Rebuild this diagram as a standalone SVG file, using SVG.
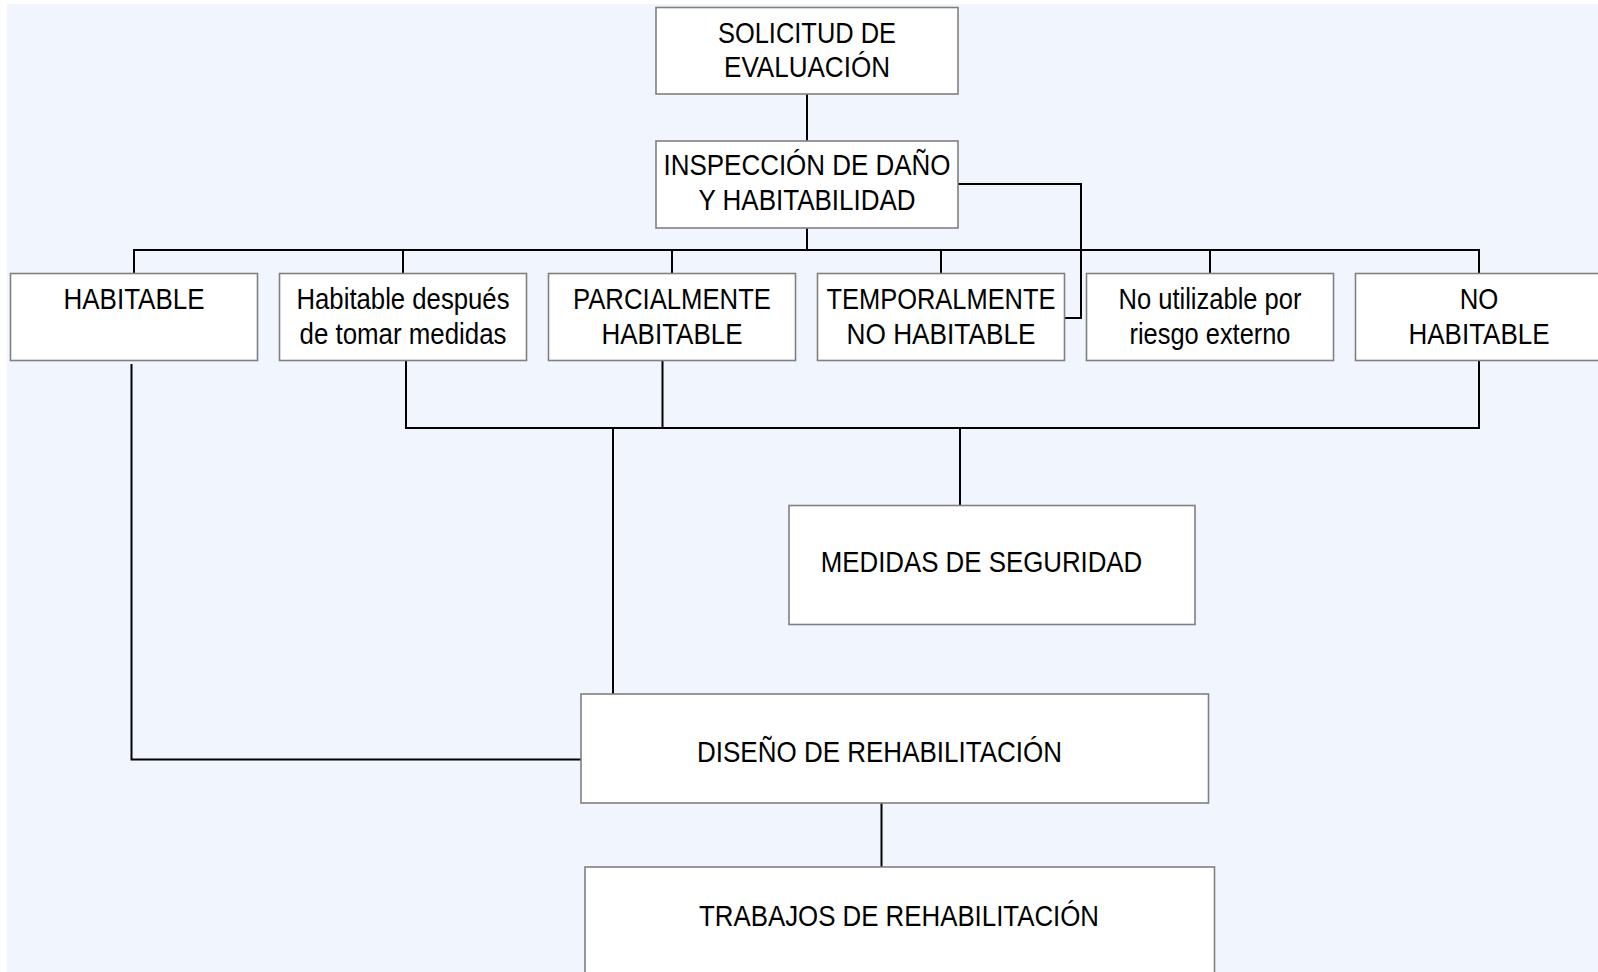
<svg xmlns="http://www.w3.org/2000/svg" width="1598" height="972" viewBox="0 0 1598 972">
  <style>
    .box { fill: #ffffff; stroke: #808080; stroke-width: 1.6; }
    .wire { fill: none; stroke: #000000; stroke-width: 2; stroke-linecap: square; }
    .lbl { font-family: "Liberation Sans", Arial, sans-serif; font-size: 30px; fill: #000000; text-anchor: middle; }
  </style>

  <!-- page -->
  <rect x="0" y="0" width="1598" height="972" fill="#ffffff"/>
  <rect x="7" y="4" width="1591" height="968" fill="#f1f5fe"/>

  <!-- connectors -->
  <g id="connectors" class="wire">
    <line x1="807" y1="94" x2="807" y2="141"/>
    <line x1="807" y1="228" x2="807" y2="250"/>
    <!-- distribution bus to the six outcomes -->
    <line x1="134" y1="250" x2="1479" y2="250"/>
    <line x1="134" y1="250" x2="134" y2="273.5"/>
    <line x1="403" y1="250" x2="403" y2="273.5"/>
    <line x1="672" y1="250" x2="672" y2="273.5"/>
    <line x1="941" y1="250" x2="941" y2="273.5"/>
    <line x1="1210" y1="250" x2="1210" y2="273.5"/>
    <line x1="1479" y1="250" x2="1479" y2="273.5"/>
    <!-- side link from inspection to temporarily uninhabitable -->
    <polyline points="958,184 1081,184 1081,318 1065,318"/>
    <!-- collector bus -->
    <line x1="406" y1="361" x2="406" y2="428"/>
    <line x1="662.5" y1="361" x2="662.5" y2="428"/>
    <line x1="1479" y1="361" x2="1479" y2="428"/>
    <line x1="406" y1="428" x2="1479" y2="428"/>
    <line x1="960" y1="428" x2="960" y2="505.5"/>
    <line x1="613" y1="428" x2="613" y2="694"/>
    <!-- habitable straight to design -->
    <polyline points="131.5,365 131.5,759.5 581,759.5"/>
    <line x1="881.5" y1="803" x2="881.5" y2="867"/>
  </g>

  <g id="solicitud">
    <rect class="box" x="656" y="7.5" width="302" height="86.5"/>
    <text class="lbl" x="807" y="42.5" textLength="178" lengthAdjust="spacingAndGlyphs">SOLICITUD DE</text>
    <text class="lbl" x="807" y="77" textLength="166" lengthAdjust="spacingAndGlyphs">EVALUACIÓN</text>
  </g>

  <g id="inspeccion">
    <rect class="box" x="656" y="141" width="302" height="87"/>
    <text class="lbl" x="807" y="175" textLength="287" lengthAdjust="spacingAndGlyphs">INSPECCIÓN DE DAÑO</text>
    <text class="lbl" x="807" y="209.5" textLength="217" lengthAdjust="spacingAndGlyphs">Y HABITABILIDAD</text>
  </g>

  <g id="habitable">
    <rect class="box" x="10.5" y="273.5" width="247" height="87"/>
    <text class="lbl" x="134" y="309" textLength="141" lengthAdjust="spacingAndGlyphs">HABITABLE</text>
  </g>

  <g id="habitable-medidas">
    <rect class="box" x="279.5" y="273.5" width="247" height="87"/>
    <text class="lbl" x="403" y="309" textLength="213" lengthAdjust="spacingAndGlyphs">Habitable después</text>
    <text class="lbl" x="403" y="343.5" textLength="207" lengthAdjust="spacingAndGlyphs">de tomar medidas</text>
  </g>

  <g id="parcialmente">
    <rect class="box" x="548.5" y="273.5" width="247" height="87"/>
    <text class="lbl" x="672" y="309" textLength="198" lengthAdjust="spacingAndGlyphs">PARCIALMENTE</text>
    <text class="lbl" x="672" y="343.5" textLength="141" lengthAdjust="spacingAndGlyphs">HABITABLE</text>
  </g>

  <g id="temporalmente">
    <rect class="box" x="817.5" y="273.5" width="247" height="87"/>
    <text class="lbl" x="941" y="309" textLength="229" lengthAdjust="spacingAndGlyphs">TEMPORALMENTE</text>
    <text class="lbl" x="941" y="343.5" textLength="189" lengthAdjust="spacingAndGlyphs">NO HABITABLE</text>
  </g>

  <g id="no-utilizable">
    <rect class="box" x="1086.5" y="273.5" width="247" height="87"/>
    <text class="lbl" x="1210" y="309" textLength="183" lengthAdjust="spacingAndGlyphs">No utilizable por</text>
    <text class="lbl" x="1210" y="343.5" textLength="161" lengthAdjust="spacingAndGlyphs">riesgo externo</text>
  </g>

  <g id="no-habitable">
    <rect class="box" x="1355.5" y="273.5" width="260" height="87"/>
    <text class="lbl" x="1479" y="309" textLength="38.6" lengthAdjust="spacingAndGlyphs">NO</text>
    <text class="lbl" x="1479" y="343.5" textLength="141" lengthAdjust="spacingAndGlyphs">HABITABLE</text>
  </g>

  <g id="medidas">
    <rect class="box" x="789" y="505.5" width="406" height="119"/>
    <text class="lbl" x="981.5" y="572" textLength="321.5" lengthAdjust="spacingAndGlyphs">MEDIDAS DE SEGURIDAD</text>
  </g>

  <g id="diseno">
    <rect class="box" x="581" y="694" width="627.5" height="109"/>
    <text class="lbl" x="879.5" y="761.5" textLength="365" lengthAdjust="spacingAndGlyphs">DISEÑO DE REHABILITACIÓN</text>
  </g>

  <g id="trabajos">
    <rect class="box" x="585" y="867" width="629.5" height="120"/>
    <text class="lbl" x="899" y="925.5" textLength="400" lengthAdjust="spacingAndGlyphs">TRABAJOS DE REHABILITACIÓN</text>
  </g>
</svg>
